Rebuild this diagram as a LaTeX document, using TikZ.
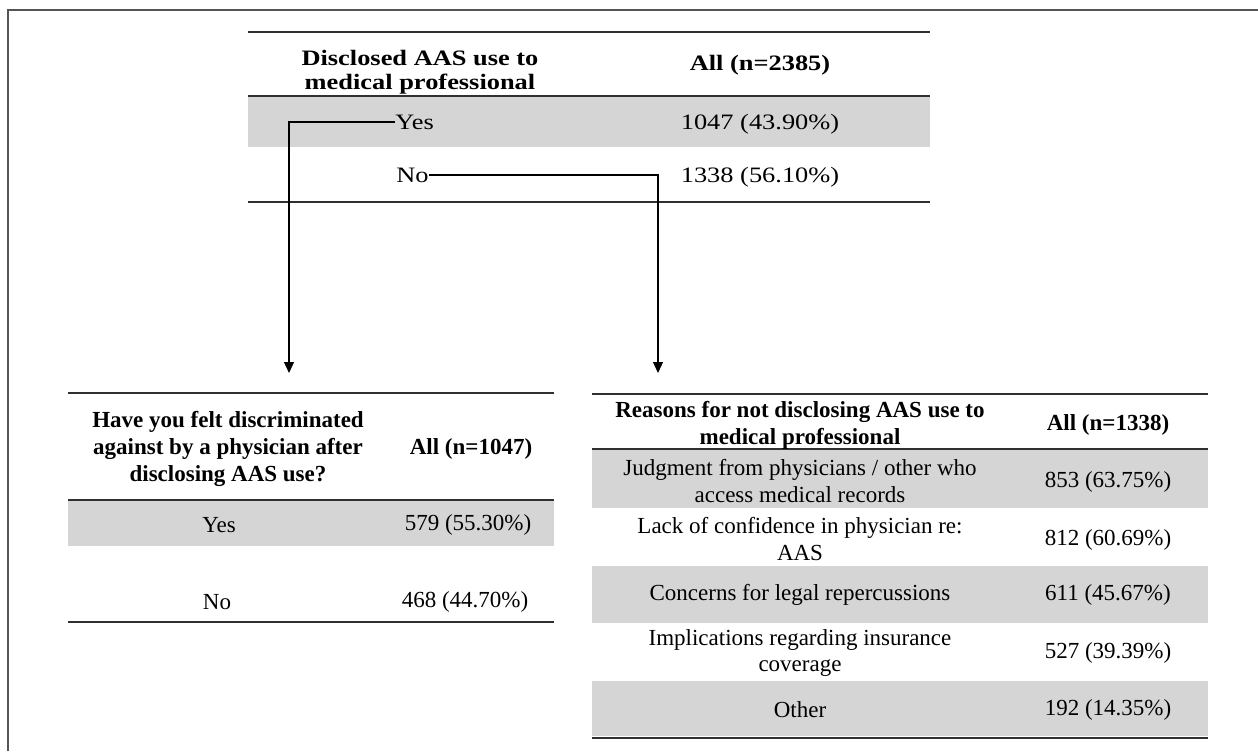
\documentclass[tikz,border=0pt]{standalone}
\usepackage{fontspec}
\setmainfont{Liberation Serif}
\newfontfamily\widefont[FakeStretch=1.2]{Liberation Serif}
\usetikzlibrary{arrows.meta}
\definecolor{rowgray}{HTML}{D5D5D5}
\definecolor{rulegray}{HTML}{303030}
\definecolor{framegray}{HTML}{555555}

\begin{document}
\begin{tikzpicture}[
		x=0.5pt, y=-0.5pt, % one unit = one pixel of the figure
		toptext/.style={font=\widefont\fontsize{11}{12}\selectfont, align=center, inner sep=0pt},
		tophead/.style={font=\widefont\bfseries\fontsize{11}{12}\selectfont, align=center, inner sep=0pt},
		cell/.style={font=\fontsize{11.5}{13.35}\selectfont, align=center, inner sep=0pt},
		head/.style={font=\bfseries\fontsize{11.5}{13.35}\selectfont, align=center, inner sep=0pt},
		band/.style={fill=rowgray},
		rule/.style={draw=rulegray, line width=1pt},
		frame/.style={draw=framegray, line width=0.9pt},
		arrow/.style={-{Triangle[length=5.5pt, width=5pt]}, line width=0.6pt}
		]
		\useasboundingbox (0,0) rectangle (1258,751);
		
		% Frame
		\draw[frame] (8,751) -- (8,10) -- (1258,10);
		
		% Disclosure table
		\fill[band] (248,96) rectangle (930,147);
		\draw[rule] (248,32) -- (930,32);
		\draw[rule] (248,96) -- (930,96);
		\draw[rule] (248,202) -- (930,202);
		\node[tophead] (dischead) at (420,72) {Disclosed AAS use to\\medical professional};
		\node[tophead] (disall) at (760,65) {All (n=2385)};
		\node[toptext, anchor=west] (disyes) at (395,122) {Yes};
		\node[toptext] (disyesn) at (760,124) {1047 (43.90\%)};
		\node[toptext, anchor=west] (disno) at (396,175) {No};
		\node[toptext] (disnon) at (760,177) {1338 (56.10\%)};
		
		% Discrimination table
		\fill[band] (68,500) rectangle (554,546);
		\draw[rule] (68,393) -- (554,393);
		\draw[rule] (68,500) -- (554,500);
		\draw[rule] (68,622) -- (554,622);
		\node[head] (discrim) at (228,449) {Have you felt discriminated\\against by a physician after\\disclosing AAS use?};
		\node[head] (discrimall) at (471,449) {All (n=1047)};
		\node[cell] (discyes) at (219,525) {Yes};
		\node[cell] (discyesn) at (468,525) {579 (55.30\%)};
		\node[cell] (discno) at (217,602) {No};
		\node[cell] (discnon) at (465,602) {468 (44.70\%)};
		
		% Reasons table
		\fill[band] (592,449) rectangle (1208,508);
		\fill[band] (592,566) rectangle (1208,623);
		\fill[band] (592,681) rectangle (1208,736);
		\draw[rule] (592,394) -- (1208,394);
		\draw[rule] (592,449) -- (1208,449);
		\draw[rule] (592,738) -- (1208,738);
		\node[head] (reasons) at (800,425) {Reasons for not disclosing AAS use to\\medical professional};
		\node[head] (reasonsall) at (1108,425) {All (n=1338)};
		\node[cell] (judgment) at (800,481) {Judgment from physicians / other who\\access medical records};
		\node[cell] (judgmentn) at (1108,482) {853 (63.75\%)};
		\node[cell] (confidence) at (800,539) {Lack of confidence in physician re:\\AAS};
		\node[cell] (confidencen) at (1108,540) {812 (60.69\%)};
		\node[cell] (legal) at (800,595) {Concerns for legal repercussions};
		\node[cell] (legaln) at (1108,595) {611 (45.67\%)};
		\node[cell] (insurance) at (800,653) {Implications regarding insurance\\coverage};
		\node[cell] (insurancen) at (1108,653) {527 (39.39\%)};
		\node[cell] (other) at (800,710) {Other};
		\node[cell] (othern) at (1108,710) {192 (14.35\%)};
		
		% Arrows
		\coordinate (discin) at (289,373);
		\coordinate (reasonsin) at (658,373);
		\draw[arrow] (disyes.west) -| (discin);
		\draw[arrow] (disno.east) -| (reasonsin);
		
	\end{tikzpicture}
\end{document}
